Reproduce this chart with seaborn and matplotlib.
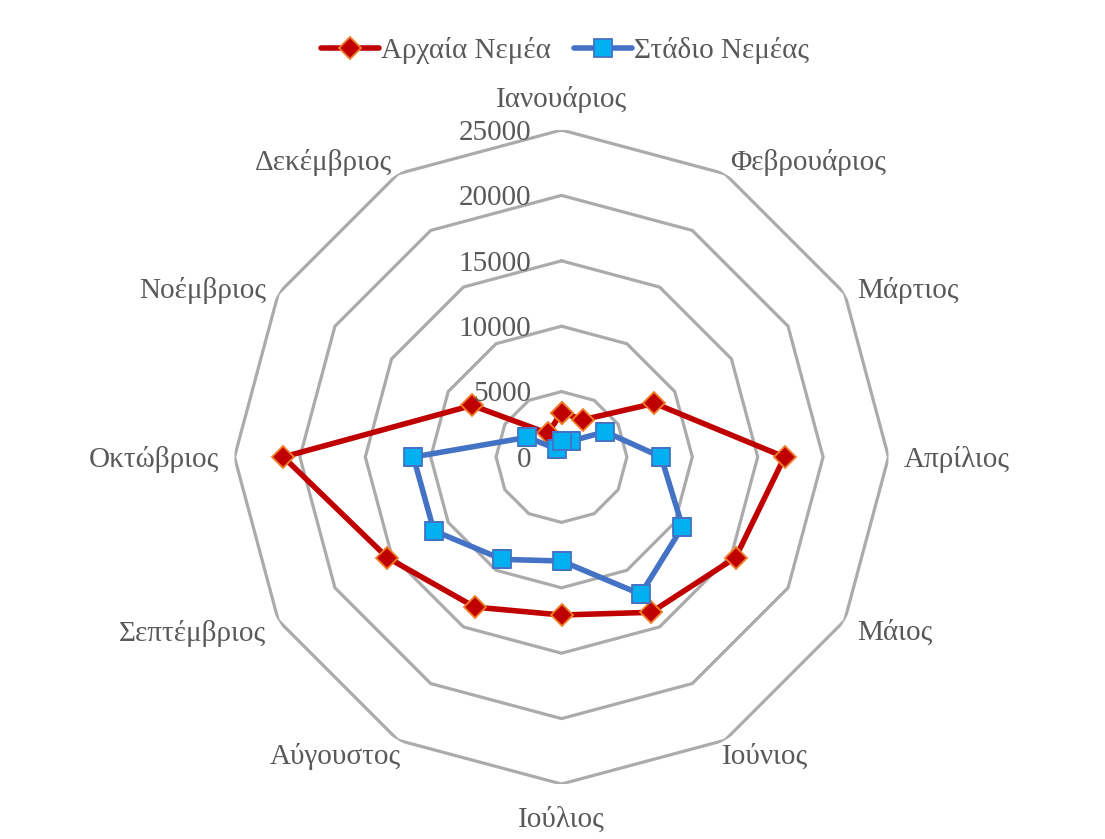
import numpy as np
import pandas as pd
import matplotlib
matplotlib.use('Agg')
import matplotlib.pyplot as plt
import seaborn as sns

months = ['Ιανουάριος', 'Φεβρουάριος', 'Μάρτιος', 'Απρίλιος', 'Μάιος', 'Ιούνιος',
          'Ιούλιος', 'Αύγουστος', 'Σεπτέμβριος', 'Οκτώβριος', 'Νοέμβριος', 'Δεκέμβριος']
archaia_nemea = [3390, 3290, 8210, 17050, 15370, 13710, 12080, 13250, 15380, 21260, 7890, 2090]
stadio_nemeas = [1200, 1400, 3860, 7620, 10680, 12110, 7950, 9040, 11270, 11320, 3010, 700]
radial_ticks = [0, 5000, 10000, 15000, 20000, 25000]

sns.set_style('white')
plt.rcParams['font.family'] = ['Liberation Serif', 'DejaVu Serif']
text_col = '#595959'
grid_col = '#ABABAB'
fs = 21

n = len(months)
theta = np.linspace(0, 2 * np.pi, n, endpoint=False)
theta_closed = np.append(theta, 2 * np.pi)

df = pd.DataFrame({
    'theta': np.concatenate([theta_closed, theta_closed]),
    'value': archaia_nemea + archaia_nemea[:1] + stadio_nemeas + stadio_nemeas[:1],
    'series': ['Αρχαία Νεμέα'] * (n + 1) + ['Στάδιο Νεμέας'] * (n + 1),
})

fig = plt.figure(figsize=(11.05, 8.39), dpi=100)
cx, cy, rad = 561.5, 457, 327
ax = fig.add_axes([(cx - rad) / 1105, (839 - cy - rad) / 839, 2 * rad / 1105, 2 * rad / 839],
                  projection='polar')
ax.set_theta_zero_location('N')
ax.set_theta_direction(-1)
ax.set_ylim(0, 25000)
ax.grid(False)
ax.spines['polar'].set_visible(False)
ax.set_xticks([])
ax.set_yticks([])
ax.patch.set_alpha(0)

# polygon gridlines
for r in radial_ticks[1:]:
    ax.plot(theta_closed, [r] * (n + 1), color=grid_col, lw=2.3, zorder=1, solid_joinstyle='miter')

red = df[df['series'] == 'Αρχαία Νεμέα']
blue = df[df['series'] == 'Στάδιο Νεμέας']
sns.lineplot(data=red, x='theta', y='value', ax=ax, color='#C00000', lw=4,
             marker='D', markersize=11, markerfacecolor='#C00000', markeredgecolor='#F07F2A',
             markeredgewidth=1.3, label='Αρχαία Νεμέα', zorder=3)
sns.lineplot(data=blue, x='theta', y='value', ax=ax, color='#4472C4', lw=4,
             marker='s', markersize=12.5, markerfacecolor='#00B0F0', markeredgecolor='#4472C4',
             markeredgewidth=1.3, label='Στάδιο Νεμέας', zorder=4)
ax.set_xlabel('')
ax.set_ylabel('')

# radial value labels
for r in radial_ticks:
    ax.annotate(str(r), xy=(0, r), xytext=(-22, -2), textcoords='offset points',
                ha='right', va='center', fontsize=fs, color=text_col)

# month labels
offsets = [(0, 22, 'center'), (4, 8, 'left'), (9, 2, 'left'), (11, -2, 'left'),
           (9, -9, 'left'), (-2, -12, 'left'), (0, -26, 'center'), (2, -12, 'right'),
           (-9, -9, 'right'), (-11, -2, 'right'), (-9, 2, 'right'), (-4, 8, 'right')]
for t, lab, (dx, dy, ha) in zip(theta, months, offsets):
    ax.annotate(lab, xy=(t, 25000), xytext=(dx, dy), textcoords='offset points',
                ha=ha, va='center', fontsize=fs, color=text_col, annotation_clip=False)

handles, labels = ax.get_legend_handles_labels()
if ax.get_legend() is not None:
    ax.get_legend().remove()
leg = fig.legend(handles, labels, loc='center', bbox_to_anchor=(0.511, 0.94), ncol=2,
                 frameon=False, fontsize=fs, handlelength=2.0, columnspacing=0.8,
                 handletextpad=0.05)
for txt in leg.get_texts():
    txt.set_color(text_col)

fig.savefig('out.png', dpi=100)
